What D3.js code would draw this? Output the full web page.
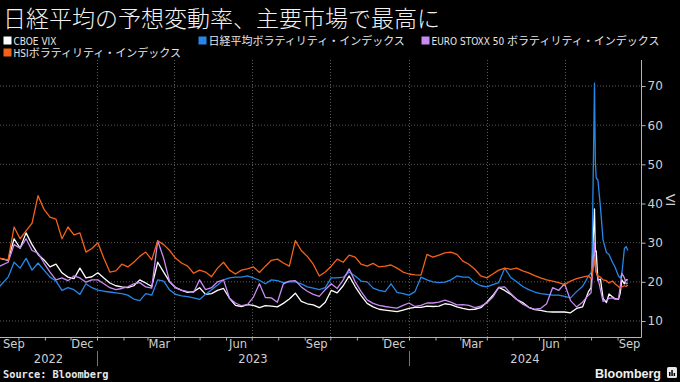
<!DOCTYPE html>
<html><head><meta charset="utf-8">
<script src="https://cdn.jsdelivr.net/npm/d3@7"></script>
<style>
html,body{margin:0;padding:0;background:#000;}
svg{display:block;}
</style></head><body>
<svg id="c" width="680" height="382"></svg>
<script>
const title = "日経平均の予想変動率、主要市場で最高に";
const seriesNames = ["CBOE VIX","日経平均ボラティリティ・インデックス","EURO STOXX 50 ボラティリティ・インデックス","HSIボラティリティ・インデックス"];
const seriesColors = ["#ffffff","#2687e8","#c98af2","#f4621a"];

const dates = [
"22-09-09","22-09-19","22-09-26","22-10-03","22-10-10","22-10-17","22-10-24","22-10-31","22-11-07","22-11-14","22-11-21","22-11-28","22-12-05","22-12-12","22-12-19","22-12-26",
"23-01-02","23-01-09","23-01-16","23-01-23","23-01-30","23-02-06","23-02-13","23-02-20","23-02-27","23-03-06","23-03-13","23-03-20","23-03-27","23-04-03","23-04-10","23-04-17","23-04-24","23-05-01","23-05-08","23-05-15","23-05-22","23-05-29","23-06-05","23-06-12","23-06-19","23-06-26","23-07-03","23-07-10","23-07-17","23-07-24","23-07-31","23-08-07","23-08-14","23-08-21","23-08-28","23-09-04","23-09-11","23-09-18","23-09-25","23-10-02","23-10-09","23-10-16","23-10-23","23-10-30","23-11-06","23-11-13","23-11-20","23-11-27","23-12-04","23-12-11","23-12-18","23-12-25",
"24-01-01","24-01-08","24-01-15","24-01-22","24-01-29","24-02-05","24-02-12","24-02-19","24-02-26","24-03-04","24-03-11","24-03-18","24-03-25","24-04-01","24-04-08","24-04-15","24-04-22","24-04-29","24-05-06","24-05-13","24-05-20","24-05-27","24-06-03","24-06-10","24-06-17","24-06-24","24-07-01","24-07-08","24-07-15","24-07-22","24-07-29",
"24-08-01","24-08-02","24-08-05","24-08-06","24-08-07","24-08-09","24-08-12","24-08-15","24-08-19","24-08-22","24-08-26","24-08-29","24-09-02","24-09-04","24-09-06","24-09-09","24-09-11","24-09-13"];

const vix = [
26.0,25.5,31.0,28.6,32.5,29.5,27.0,25.6,23.8,24.5,22.3,21.2,20.8,23.5,21.0,21.3,
22.3,21.0,19.7,19.0,18.7,18.5,19.0,20.5,19.7,18.8,25.0,22.5,20.0,18.5,17.8,17.3,17.5,18.5,16.8,17.0,17.8,18.3,15.8,14.0,13.7,14.2,14.0,13.4,13.9,13.8,13.6,14.5,15.6,17.1,15.0,14.4,14.1,13.4,14.8,17.8,17.2,19.0,21.5,18.8,16.5,14.5,13.6,13.0,12.8,12.6,12.4,12.8,
13.2,13.5,13.5,13.8,13.7,13.8,14.4,14.2,13.6,13.2,12.9,13.0,13.4,14.8,16.5,18.6,17.8,16.8,15.5,14.7,13.5,12.9,12.7,12.4,12.3,12.3,12.3,12.1,13.2,13.6,17.5,
18.5,23.4,38.6,27.7,27.9,20.4,20.7,15.8,14.7,16.9,16.2,15.7,15.5,17.0,20.5,19.5,20.5,20.5];

const nikkeiVI = [
18.8,21.2,25.0,23.5,26.0,23.0,24.8,23.0,21.2,20.2,17.8,18.5,18.0,16.8,19.5,18.5,
17.9,17.6,17.4,17.2,17.0,16.6,15.6,15.2,17.0,16.6,20.5,20.2,17.9,16.8,16.4,16.2,15.9,15.5,16.8,18.0,19.2,20.5,21.0,21.2,21.2,21.5,21.0,20.4,19.5,20.5,20.3,19.8,20.0,20.0,19.5,18.7,18.4,18.0,18.5,21.0,21.0,21.2,22.5,21.5,20.2,20.0,18.4,17.8,17.5,19.5,17.3,17.0,
16.6,17.5,21.2,20.5,20.0,19.8,19.9,20.5,21.5,21.2,21.2,19.8,19.0,18.7,19.3,19.8,23.5,21.1,20.0,18.8,18.0,17.4,17.0,16.8,16.6,16.6,16.3,15.9,17.5,18.8,21.5,
22.3,23.5,70.7,51.0,46.5,46.0,39.0,30.7,27.5,27.0,25.0,23.8,21.5,21.0,22.0,28.5,29.0,28.0];

const euroStoxxVI = [
24.0,25.0,29.5,28.6,31.0,28.0,27.3,24.8,22.5,20.5,21.0,20.3,21.5,21.0,19.9,20.5,
20.5,19.5,18.5,18.0,18.3,18.7,19.5,19.8,18.7,18.4,30.5,26.0,20.0,18.5,17.9,17.5,17.3,20.5,18.0,18.5,20.0,20.5,15.8,14.6,13.9,14.2,16.1,19.5,16.0,15.9,14.8,19.5,20.2,20.3,18.7,17.6,16.8,16.3,18.0,19.5,18.3,20.5,23.3,20.0,17.5,15.4,14.5,14.0,13.7,13.5,13.3,14.0,
14.6,13.7,14.0,14.6,14.6,14.8,15.3,14.8,14.1,14.2,14.0,13.4,13.8,14.6,16.1,18.6,18.7,17.0,15.5,14.3,13.5,13.0,13.2,14.4,18.5,17.8,19.5,15.2,13.6,14.8,16.6,
17.2,20.0,30.0,24.0,22.5,21.0,18.0,15.0,15.3,15.8,15.9,15.6,15.6,18.5,22.2,21.0,19.5,19.7];

const hsiVI = [
26.0,25.6,34.0,31.0,33.0,35.0,42.0,38.5,36.5,36.0,31.0,34.0,32.0,32.5,27.6,28.5,
30.0,26.0,22.5,22.8,24.5,23.8,25.0,26.5,27.6,25.6,30.5,29.5,28.0,26.0,24.8,24.0,22.2,23.0,22.5,21.3,23.5,25.0,23.0,22.0,23.0,23.3,23.8,22.4,24.0,25.5,25.8,24.8,24.0,30.5,28.0,26.5,24.5,21.5,22.5,24.0,25.8,25.0,26.8,26.3,24.5,24.0,24.7,23.8,24.0,24.3,23.5,22.5,
22.0,21.8,21.7,27.0,26.3,26.8,27.4,27.6,27.0,25.3,24.5,23.2,21.5,21.0,22.0,23.0,23.5,23.2,23.5,22.8,22.3,21.6,21.0,20.5,20.2,19.8,19.3,20.2,20.8,21.2,21.5,
20.8,21.5,25.8,24.0,22.5,21.5,21.2,20.5,20.3,19.7,20.2,19.5,18.8,18.4,18.7,19.0,18.8,19.2];

const yTicks = [10,20,30,40,50,60,70];
const monthLabelDates = ["22-09-15","22-12-15","23-03-15","23-06-15","23-09-15","23-12-15","24-03-15","24-06-15","24-09-15"];
const monthLabels = ["Sep","Dec","Mar","Jun","Sep","Dec","Mar","Jun","Sep"];
const yearLabels = ["2022","2023","2024"];
const gridDates = ["23-01-01","23-04-01","23-07-01","23-10-01","24-01-01","24-04-01","24-07-01"];
const axisTitle = "VI";
const sourceText = "Source: Bloomberg";

const parse = d3.timeParse("%y-%m-%d");
const svg = d3.select("#c");
const P = {left:0, right:641, top:60, bottom:337};
const x = d3.scaleTime().domain([new Date(2022,8,9,12), new Date(2024,8,28,10)]).range([P.left, P.right]);
const y = d3.scaleLinear().domain([10,70]).range([321,86]);

svg.append("rect").attr("width",680).attr("height",382).attr("fill","#000");

// title
svg.append("text").attr("x",3).attr("y",27).text(title)
  .attr("fill","#f2f2f2").attr("font-family","'Noto Sans CJK JP',sans-serif").attr("font-size",23).attr("font-weight",300);

// legend
const latinFont = "'DejaVu Sans Condensed','Liberation Sans Narrow','DejaVu Sans',sans-serif";
const cjkFont = "'Noto Sans CJK JP',sans-serif";
const legendPos = [[3.5,36.5],[198.5,36.5],[421.5,36.5],[3.5,48.5]];
seriesNames.forEach((name,i)=>{
  const [lx,ly] = legendPos[i];
  svg.append("rect").attr("x",lx).attr("y",ly).attr("width",8).attr("height",8).attr("fill",seriesColors[i]);
  const t = svg.append("text").attr("x",lx+10).attr("y",ly+8).attr("fill","#e6e6e6");
  const runs = name.match(/[\x00-\x7F]+|[^\x00-\x7F]+/g);
  runs.forEach(r=>{
    const ascii = /^[\x00-\x7F]+$/.test(r);
    t.append("tspan").text(r).attr("font-family", ascii?latinFont:cjkFont).attr("font-size", ascii?10:11)
      .attr("xml:space","preserve").style("white-space","pre");
  });
});

// grid
const g = svg.append("g");
g.selectAll("line.h").data(yTicks).join("line")
  .attr("x1",P.left).attr("x2",P.right).attr("y1",d=>y(d)).attr("y2",d=>y(d))
  .attr("stroke","#5a5a5a").attr("stroke-width",1).attr("stroke-dasharray","1,2");
g.selectAll("line.v").data(gridDates.map(parse)).join("line")
  .attr("x1",d=>Math.round(x(d))+0.5).attr("x2",d=>Math.round(x(d))+0.5).attr("y1",P.top).attr("y2",P.bottom)
  .attr("stroke","#5a5a5a").attr("stroke-width",1).attr("stroke-dasharray","1,2");

// series
const allSeries = [vix, nikkeiVI, euroStoxxVI, hsiVI];
const parsedDates = dates.map(parse);
const line = d3.line().x(d=>x(d[0])).y(d=>y(d[1]));
allSeries.forEach((vals,i)=>{
  svg.append("path").datum(parsedDates.map((d,j)=>[d,vals[j]]))
    .attr("d",line).attr("fill","none").attr("stroke",seriesColors[i])
    .attr("stroke-width",1.3).attr("stroke-linejoin","round");
});

// right axis
const axisColor = "#b5b5b5";
svg.append("line").attr("x1",P.right+0.5).attr("x2",P.right+0.5).attr("y1",P.top).attr("y2",P.bottom+0.5)
  .attr("stroke",axisColor).attr("stroke-width",1);
const ya = svg.append("g").attr("transform",`translate(${P.right+0.5},0)`)
  .call(d3.axisRight(y).tickValues(yTicks).tickSize(4).tickPadding(2));
ya.select(".domain").remove();
ya.selectAll("line").attr("stroke",axisColor);
ya.selectAll("text").attr("fill","#d0d0d0").attr("font-family","'DejaVu Sans',sans-serif").attr("font-size",12);
svg.append("text").attr("transform","translate(666,200) rotate(90)").attr("text-anchor","middle")
  .attr("fill","#d0d0d0").attr("font-family","'DejaVu Sans',sans-serif").attr("font-size",13).text(axisTitle);

// bottom axis
svg.append("line").attr("x1",P.left).attr("x2",P.right+0.5).attr("y1",P.bottom+0.5).attr("y2",P.bottom+0.5)
  .attr("stroke",axisColor).attr("stroke-width",1);
const xa = svg.append("g").attr("transform",`translate(0,${P.bottom+0.5})`)
  .call(d3.axisBottom(x).ticks(d3.timeMonth.every(1)).tickSize(3).tickFormat(""));
xa.select(".domain").remove();
xa.selectAll("line").attr("stroke",axisColor);

const labelFont = "'DejaVu Sans',sans-serif";
monthLabelDates.forEach((ds,i)=>{
  const cx = x(parse(ds));
  const t = svg.append("text").attr("y",348).attr("fill","#d0d0d0").attr("font-family",labelFont).attr("font-size",11.5).text(monthLabels[i]);
  const w = t.node().getComputedTextLength();
  let left = cx - w/2;
  if (left < 3) left = 3;
  if (left + w > P.right) left = P.right - w;
  t.attr("x",left);
});
const yearBounds = [x.domain()[0], new Date(2023,0,1), new Date(2024,0,1), x.domain()[1]];
yearLabels.forEach((lab,i)=>{
  const cx = (x(yearBounds[i]) + x(yearBounds[i+1]))/2;
  svg.append("text").attr("x",cx).attr("y",363).attr("text-anchor","middle").attr("fill","#d0d0d0")
    .attr("font-family",labelFont).attr("font-size",11.5).text(lab);
});
[yearBounds[1], yearBounds[2]].forEach(d=>{
  svg.append("line").attr("x1",Math.round(x(d))+0.5).attr("x2",Math.round(x(d))+0.5).attr("y1",351).attr("y2",366)
    .attr("stroke","#777").attr("stroke-width",1);
});

// source & logo
svg.append("text").attr("x",3).attr("y",378).attr("fill","#e8e8e8").attr("font-family","'DejaVu Sans Mono',monospace")
  .attr("font-weight","bold").attr("font-size",10.3).text(sourceText);
svg.append("text").attr("x",595).attr("y",378).attr("fill","#f0f0f0").attr("font-family","'Liberation Sans',Arial,sans-serif")
  .attr("font-weight","bold").attr("font-size",12.5).text("Bloomberg");
const ic = svg.append("g").attr("transform","translate(667,367)");
ic.append("rect").attr("width",10).attr("height",11).attr("rx",1.5).attr("fill","#e8e8e8");
[[2,5,1.5,4],[4.3,3,1.5,6],[6.6,6,1.5,3]].forEach(b=>ic.append("rect").attr("x",b[0]).attr("y",b[1]).attr("width",b[2]).attr("height",b[3]).attr("fill","#000"));
</script>
</body></html>
